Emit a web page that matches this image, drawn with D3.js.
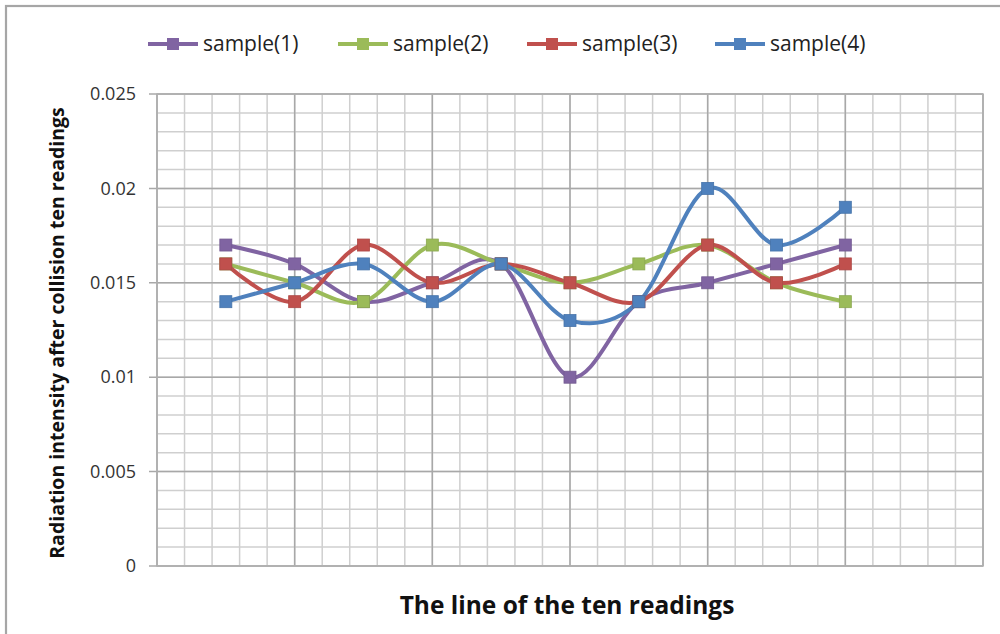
<!DOCTYPE html>
<html>
<head>
<meta charset="utf-8">
<script src="https://cdn.jsdelivr.net/npm/d3@7"></script>
<style>
body { margin: 0; background: #fff; }
svg { display: block; }
</style>
</head>
<body>
<svg id="chart" width="1000" height="634"></svg>
<script>
const readings = [1, 2, 3, 4, 5, 6, 7, 8, 9, 10];
const seriesNames = ["sample(1)", "sample(2)", "sample(3)", "sample(4)"];
const sample1 = [0.017, 0.016, 0.014, 0.015, 0.016, 0.010, 0.014, 0.015, 0.016, 0.017];
const sample2 = [0.016, 0.015, 0.014, 0.017, 0.016, 0.015, 0.016, 0.017, 0.015, 0.014];
const sample3 = [0.016, 0.014, 0.017, 0.015, 0.016, 0.015, 0.014, 0.017, 0.015, 0.016];
const sample4 = [0.014, 0.015, 0.016, 0.014, 0.016, 0.013, 0.014, 0.020, 0.017, 0.019];
const yTicks = [0, 0.005, 0.01, 0.015, 0.02, 0.025];
const yTickLabels = ["0", "0.005", "0.01", "0.015", "0.02", "0.025"];
const colors = ["#8064A2", "#9BBB59", "#C0504D", "#4F81BD"];
const xTitle = "The line of the ten readings";
const yTitle = "Radiation intensity after collision ten readings";

(function () {
const allSeries = [sample1, sample2, sample3, sample4];
const svg = d3.select("#chart");
const font = "'Open Sans', Lato, sans-serif";

// outer border (only top/left visible as in the reference)
svg.append("rect").attr("x", 6).attr("y", 6).attr("width", 1010).attr("height", 650)
  .attr("fill", "none").attr("stroke", "#a6a6a6").attr("stroke-width", 2.2);

const pLeft = 157, pRight = 983, pTop = 94, pBottom = 566;
const x = d3.scaleLinear().domain([0, 12]).range([pLeft, pRight]);
const y = d3.scaleLinear().domain([0, 0.025]).range([pBottom, pTop]);

const g = svg.append("g");

// minor grid
const xMinor = d3.range(0, 12.0001, 0.4);
const yMinor = d3.range(0, 0.02501, 0.001);
g.append("g").selectAll("line").data(xMinor).join("line")
  .attr("x1", d => x(d)).attr("x2", d => x(d)).attr("y1", pTop).attr("y2", pBottom)
  .attr("stroke", "#cfcfcf").attr("stroke-width", 1.5);
g.append("g").selectAll("line").data(yMinor).join("line")
  .attr("x1", pLeft).attr("x2", pRight).attr("y1", d => y(d)).attr("y2", d => y(d))
  .attr("stroke", "#cfcfcf").attr("stroke-width", 1.5);
// major grid
const xMajor = d3.range(0, 12.0001, 2);
g.append("g").selectAll("line").data(xMajor).join("line")
  .attr("x1", d => x(d)).attr("x2", d => x(d)).attr("y1", pTop).attr("y2", pBottom)
  .attr("stroke", "#a8a8a8").attr("stroke-width", 1.5);
g.append("g").selectAll("line").data(yTicks).join("line")
  .attr("x1", pLeft - 8).attr("x2", pRight).attr("y1", d => y(d)).attr("y2", d => y(d))
  .attr("stroke", "#a8a8a8").attr("stroke-width", 1.5);
// plot frame
g.append("rect").attr("x", pLeft).attr("y", pTop).attr("width", pRight - pLeft).attr("height", pBottom - pTop)
  .attr("fill", "none").attr("stroke", "#b0b0b0").attr("stroke-width", 1.5);

// y axis labels via d3 axis
const yAxis = d3.axisLeft(y).tickValues(yTicks).tickFormat((d, i) => yTickLabels[i]).tickSize(0).tickPadding(21);
const ya = svg.append("g").attr("transform", `translate(${pLeft},0)`).call(yAxis);
ya.select(".domain").remove();
ya.selectAll("text").attr("font-family", font).attr("font-size", 18).attr("fill", "#333");

// lines
const line = d3.line()
  .x((d, i) => x(readings[i]))
  .y(d => y(d))
  .curve(d3.curveCatmullRom.alpha(0));

allSeries.forEach((s, k) => {
  svg.append("path").datum(s).attr("d", line)
    .attr("fill", "none").attr("stroke", colors[k]).attr("stroke-width", 4)
    .attr("stroke-linejoin", "round").attr("stroke-linecap", "round");
});
allSeries.forEach((s, k) => {
  svg.append("g").selectAll("rect").data(s).join("rect")
    .attr("x", (d, i) => x(readings[i]) - 6).attr("y", d => y(d) - 6)
    .attr("width", 12).attr("height", 12)
    .attr("fill", colors[k]).attr("stroke", d3.color(colors[k]).darker(0.3)).attr("stroke-width", 0.8);
});

// legend
const legendX = [148, 338, 527, 715];
const lg = svg.append("g");
seriesNames.forEach((name, k) => {
  const lx = legendX[k], ly = 44;
  lg.append("line").attr("x1", lx).attr("x2", lx + 50).attr("y1", ly).attr("y2", ly)
    .attr("stroke", colors[k]).attr("stroke-width", 4);
  lg.append("rect").attr("x", lx + 19).attr("y", ly - 6).attr("width", 12).attr("height", 12)
    .attr("fill", colors[k]);
  lg.append("text").attr("x", lx + 55).attr("y", ly).attr("dy", "0.35em")
    .attr("font-family", font).attr("font-size", 21).attr("fill", "#222").text(name);
});

// axis titles
svg.append("text").attr("x", 567).attr("y", 605).attr("dy", "0.35em").attr("text-anchor", "middle")
  .attr("font-family", font).attr("font-weight", "bold").attr("font-size", 24.5).attr("fill", "#111").text(xTitle);
svg.append("text").attr("transform", "translate(57,333) rotate(-90)").attr("dy", "0.35em")
  .attr("text-anchor", "middle").attr("font-family", font).attr("font-weight", "bold")
  .attr("font-size", 19.5).attr("fill", "#111").text(yTitle);
})();
</script>
</body>
</html>
